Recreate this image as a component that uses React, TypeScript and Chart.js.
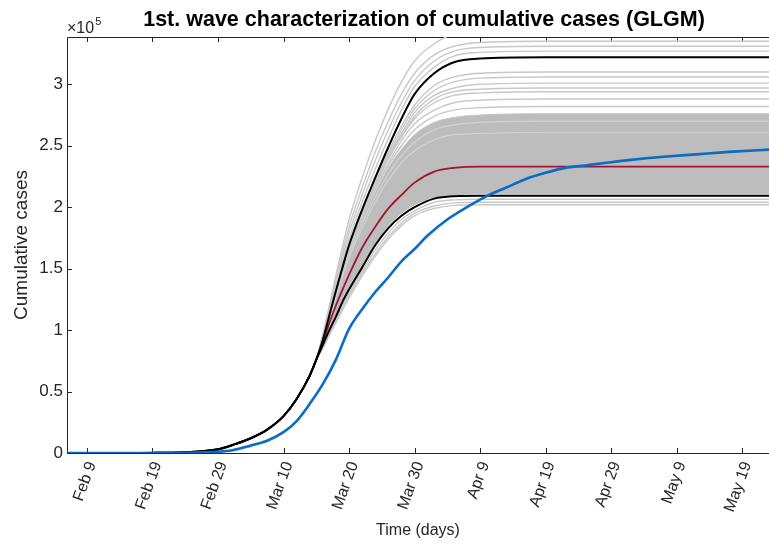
import React, { useEffect, useRef } from "react";
import { Chart, registerables } from "chart.js";
Chart.register(...registerables);

// x values are days counted from Feb 9 (day 0)
const xTickDays = [0, 10, 20, 30, 40, 50, 60, 70, 80, 90, 100];
const xTickLabels = ["Feb 9", "Feb 19", "Feb 29", "Mar 10", "Mar 20", "Mar 30", "Apr 9", "Apr 19", "Apr 29", "May 9", "May 19"];
const yTickValues = [0, 0.5, 1, 1.5, 2, 2.5, 3];
const yTickLabels = ["0", "0.5", "1", "1.5", "2", "2.5", "3"];

// model curves (values in 1e5 cases): shared early path, then individual late paths
const earlyDays = [-3, 10, 15, 20, 22.5, 25, 27.5, 30, 32, 34, 35];
const earlyModel = [0, 0.001, 0.006, 0.03, 0.07, 0.12, 0.19, 0.3, 0.44, 0.63, 0.76];
const lateDays = [36, 37, 38, 39, 40, 42, 44, 46, 48, 50, 53, 56, 60, 70, 104.5];

const upperBound = [0.92, 1.12, 1.32, 1.51, 1.69, 1.98, 2.24, 2.49, 2.72, 2.92, 3.09, 3.18, 3.21, 3.22, 3.22];
const medianFit = [0.9, 1.06, 1.2, 1.33, 1.45, 1.67, 1.84, 1.99, 2.1, 2.2, 2.29, 2.32, 2.33, 2.33, 2.33];
const lowerBound = [0.88, 1.0, 1.11, 1.23, 1.33, 1.51, 1.69, 1.83, 1.93, 2.0, 2.07, 2.09, 2.094, 2.094, 2.094];

const bandTop = [0.92, 1.11, 1.3, 1.48, 1.64, 1.9, 2.12, 2.32, 2.47, 2.59, 2.69, 2.73, 2.75, 2.76, 2.76];
const bandBottom = [0.88, 1.0, 1.12, 1.24, 1.34, 1.52, 1.7, 1.85, 1.95, 2.02, 2.08, 2.1, 2.11, 2.11, 2.11];

const grayLines = [
  [0.93, 1.11, 1.3, 1.48, 1.65, 1.91, 2.14, 2.34, 2.5, 2.63, 2.74, 2.79, 2.81, 2.82, 2.82],
  [0.93, 1.11, 1.31, 1.49, 1.65, 1.92, 2.15, 2.36, 2.54, 2.68, 2.79, 2.85, 2.87, 2.88, 2.88],
  [0.93, 1.11, 1.31, 1.49, 1.66, 1.93, 2.17, 2.39, 2.57, 2.72, 2.85, 2.91, 2.93, 2.94, 2.94],
  [0.93, 1.11, 1.31, 1.49, 1.66, 1.93, 2.17, 2.4, 2.58, 2.74, 2.88, 2.94, 2.96, 2.97, 2.97],
  [0.93, 1.12, 1.31, 1.5, 1.67, 1.94, 2.18, 2.41, 2.6, 2.77, 2.91, 2.97, 3.0, 3.01, 3.01],
  [0.93, 1.12, 1.31, 1.5, 1.67, 1.95, 2.2, 2.43, 2.63, 2.8, 2.95, 3.02, 3.05, 3.06, 3.06],
  [0.93, 1.12, 1.32, 1.5, 1.68, 1.96, 2.21, 2.45, 2.66, 2.83, 2.99, 3.06, 3.09, 3.1, 3.1],
  [0.94, 1.14, 1.35, 1.55, 1.74, 2.04, 2.31, 2.56, 2.79, 2.98, 3.14, 3.23, 3.26, 3.27, 3.27],
  [0.95, 1.16, 1.38, 1.59, 1.79, 2.1, 2.38, 2.63, 2.85, 3.03, 3.19, 3.27, 3.3, 3.31, 3.31],
  [0.96, 1.18, 1.41, 1.63, 1.84, 2.16, 2.45, 2.7, 2.92, 3.09, 3.24, 3.31, 3.34, 3.35, 3.35],
  [0.97, 1.2, 1.45, 1.68, 1.9, 2.24, 2.54, 2.8, 3.02, 3.19, 3.33, 3.41, 3.44, 3.45, 3.45],
  [0.87, 0.98, 1.09, 1.2, 1.3, 1.48, 1.65, 1.79, 1.9, 1.97, 2.04, 2.06, 2.065, 2.065, 2.065],
  [0.86, 0.97, 1.07, 1.18, 1.28, 1.46, 1.62, 1.76, 1.87, 1.95, 2.01, 2.035, 2.04, 2.04, 2.04],
  [0.85, 0.96, 1.06, 1.16, 1.26, 1.44, 1.6, 1.74, 1.85, 1.93, 1.99, 2.015, 2.02, 2.02, 2.02],
];
const lightStreaks = [
  [0.91, 1.09, 1.27, 1.44, 1.59, 1.83, 2.04, 2.22, 2.36, 2.46, 2.55, 2.59, 2.6, 2.61, 2.61],
  [0.92, 1.1, 1.29, 1.46, 1.62, 1.87, 2.08, 2.27, 2.42, 2.53, 2.63, 2.67, 2.69, 2.7, 2.7],
];

// observed cumulative cases (blue)
const observedDays = [-3, 5, 10, 15, 18, 20, 22, 25, 27.5, 30, 32, 34, 36, 38, 40, 42, 44, 46, 48, 50, 52, 55, 58, 61, 64, 67, 70, 73, 76, 79, 83, 88, 93, 98, 104.5];
const observedCases = [0, 0, 0.001, 0.002, 0.005, 0.01, 0.02, 0.06, 0.1, 0.17, 0.26, 0.4, 0.56, 0.76, 1.01, 1.17, 1.31, 1.43, 1.56, 1.66, 1.77, 1.9, 2.0, 2.09, 2.16, 2.23, 2.28, 2.32, 2.34, 2.36, 2.385, 2.41, 2.43, 2.45, 2.47];

const FONT = '"Liberation Sans", Arial, Helvetica, sans-serif';
const AXIS = "#262626";

function modelPoints(late: number[]) {
  const d = earlyDays.concat(lateDays);
  const v = earlyModel.concat(late);
  return d.map((x, i) => ({ x, y: v[i] }));
}

const framePlugin = {
  id: "frame",
  beforeDatasetsDraw(chart: any) {
    const { ctx, chartArea: a, scales } = chart;
    ctx.save();
    ctx.strokeStyle = AXIS;
    ctx.lineWidth = 1;
    ctx.beginPath();
    ctx.moveTo(a.right, a.top + 0.5);
    ctx.lineTo(a.left + 0.5, a.top + 0.5);
    ctx.lineTo(a.left + 0.5, a.bottom + 0.5);
    ctx.lineTo(a.right, a.bottom + 0.5);
    xTickDays.forEach((d) => {
      const px = Math.round(scales.x.getPixelForValue(d)) + 0.5;
      ctx.moveTo(px, a.bottom);
      ctx.lineTo(px, a.bottom - 5);
      ctx.moveTo(px, a.top);
      ctx.lineTo(px, a.top + 5);
    });
    yTickValues.forEach((v) => {
      const py = Math.round(scales.y.getPixelForValue(v)) + 0.5;
      ctx.moveTo(a.left, py);
      ctx.lineTo(a.left + 5, py);
    });
    ctx.stroke();
    ctx.restore();
  },
  afterDraw(chart: any) {
    const { ctx } = chart;
    ctx.save();
    ctx.fillStyle = "#000";
    ctx.font = `bold 21.5px ${FONT}`;
    ctx.textAlign = "center";
    ctx.textBaseline = "alphabetic";
    ctx.fillText("1st. wave characterization of cumulative cases (GLGM)", 424, 26);
    ctx.fillStyle = AXIS;
    ctx.textAlign = "left";
    ctx.font = `16px ${FONT}`;
    ctx.fillText("\u00d710", 67, 33);
    const w = ctx.measureText("\u00d710").width;
    ctx.font = `11px ${FONT}`;
    ctx.fillText("5", 67 + w + 1, 25);
    ctx.restore();
  },
};

export default function App() {
  const ref = useRef<HTMLCanvasElement>(null);
  useEffect(() => {
    document.body.style.margin = "0";
    const datasets: any[] = [];
    const add = (ds: any) => datasets.push(ds);
    add({ data: modelPoints(bandBottom), borderColor: "#c2c2c2", borderWidth: 1, fill: false });
    const bottomIndex = 0;
    add({ data: modelPoints(bandTop), borderColor: "#c2c2c2", borderWidth: 1, backgroundColor: "#bdbdbd", fill: { target: bottomIndex } });
    lightStreaks.forEach((l) => add({ data: modelPoints(l), borderColor: "#d2d2d2", borderWidth: 1.2, fill: false }));
    grayLines.forEach((l) => add({ data: modelPoints(l), borderColor: "#c8c8c8", borderWidth: 1.4, fill: false }));
    add({ data: modelPoints(medianFit), borderColor: "#a2142f", borderWidth: 1.8, fill: false });
    add({ data: modelPoints(lowerBound), borderColor: "#000000", borderWidth: 2, fill: false });
    add({ data: modelPoints(upperBound), borderColor: "#000000", borderWidth: 2, fill: false });
    add({ data: observedDays.map((x, i) => ({ x, y: observedCases[i] })), borderColor: "#0a6cc4", borderWidth: 2.6, fill: false });
    const n = datasets.length;
    datasets.forEach((ds, i) => {
      ds.order = n - i;
      ds.pointRadius = 0;
      ds.cubicInterpolationMode = "monotone";
    });

    const chart = new Chart(ref.current as HTMLCanvasElement, {
      type: "line",
      data: { datasets },
      plugins: [framePlugin],
      options: {
        animation: false,
        responsive: false,
        devicePixelRatio: 1,
        layout: { padding: { top: 37, left: 0, right: 0, bottom: 0 } },
        plugins: { legend: { display: false }, tooltip: { enabled: false }, title: { display: false } },
        scales: {
          x: {
            type: "linear",
            min: -3.05,
            max: 104.1,
            grid: { display: false, drawTicks: false },
            border: { display: false },
            ticks: {
              autoSkip: false,
              minRotation: 70,
              maxRotation: 70,
              padding: 6,
              labelOffset: 5,
              color: AXIS,
              font: { family: FONT, size: 16 },
              callback: (v: any) => {
                const i = xTickDays.indexOf(Number(v));
                return i >= 0 ? xTickLabels[i] : "";
              },
            },
            afterBuildTicks: (s: any) => {
              s.ticks = xTickDays.map((v) => ({ value: v }));
            },
            afterFit: (s: any) => {
              s.height = 93;
              s.paddingLeft = 0;
              s.paddingRight = 0;
            },
            title: { display: true, text: "Time (days)", color: AXIS, font: { family: FONT, size: 16 }, padding: { top: 0, bottom: 6 } },
          },
          y: {
            type: "linear",
            min: 0,
            max: 3.385,
            grid: { display: false, drawTicks: false },
            border: { display: false },
            ticks: {
              padding: 4,
              color: AXIS,
              font: { family: FONT, size: 17 },
              callback: (v: any) => {
                const i = yTickValues.indexOf(Number(v));
                return i >= 0 ? yTickLabels[i] : "";
              },
            },
            afterBuildTicks: (s: any) => {
              s.ticks = yTickValues.map((v) => ({ value: v }));
            },
            afterFit: (s: any) => {
              s.width = 67;
              s.paddingTop = 0;
              s.paddingBottom = 0;
            },
            title: { display: true, text: "Cumulative cases", color: AXIS, font: { family: FONT, size: 19 }, padding: { top: 10, bottom: 0 } },
          },
        },
      },
    });
    return () => chart.destroy();
  }, []);
  return <canvas ref={ref} width={769} height={546} style={{ display: "block" }} />;
}
